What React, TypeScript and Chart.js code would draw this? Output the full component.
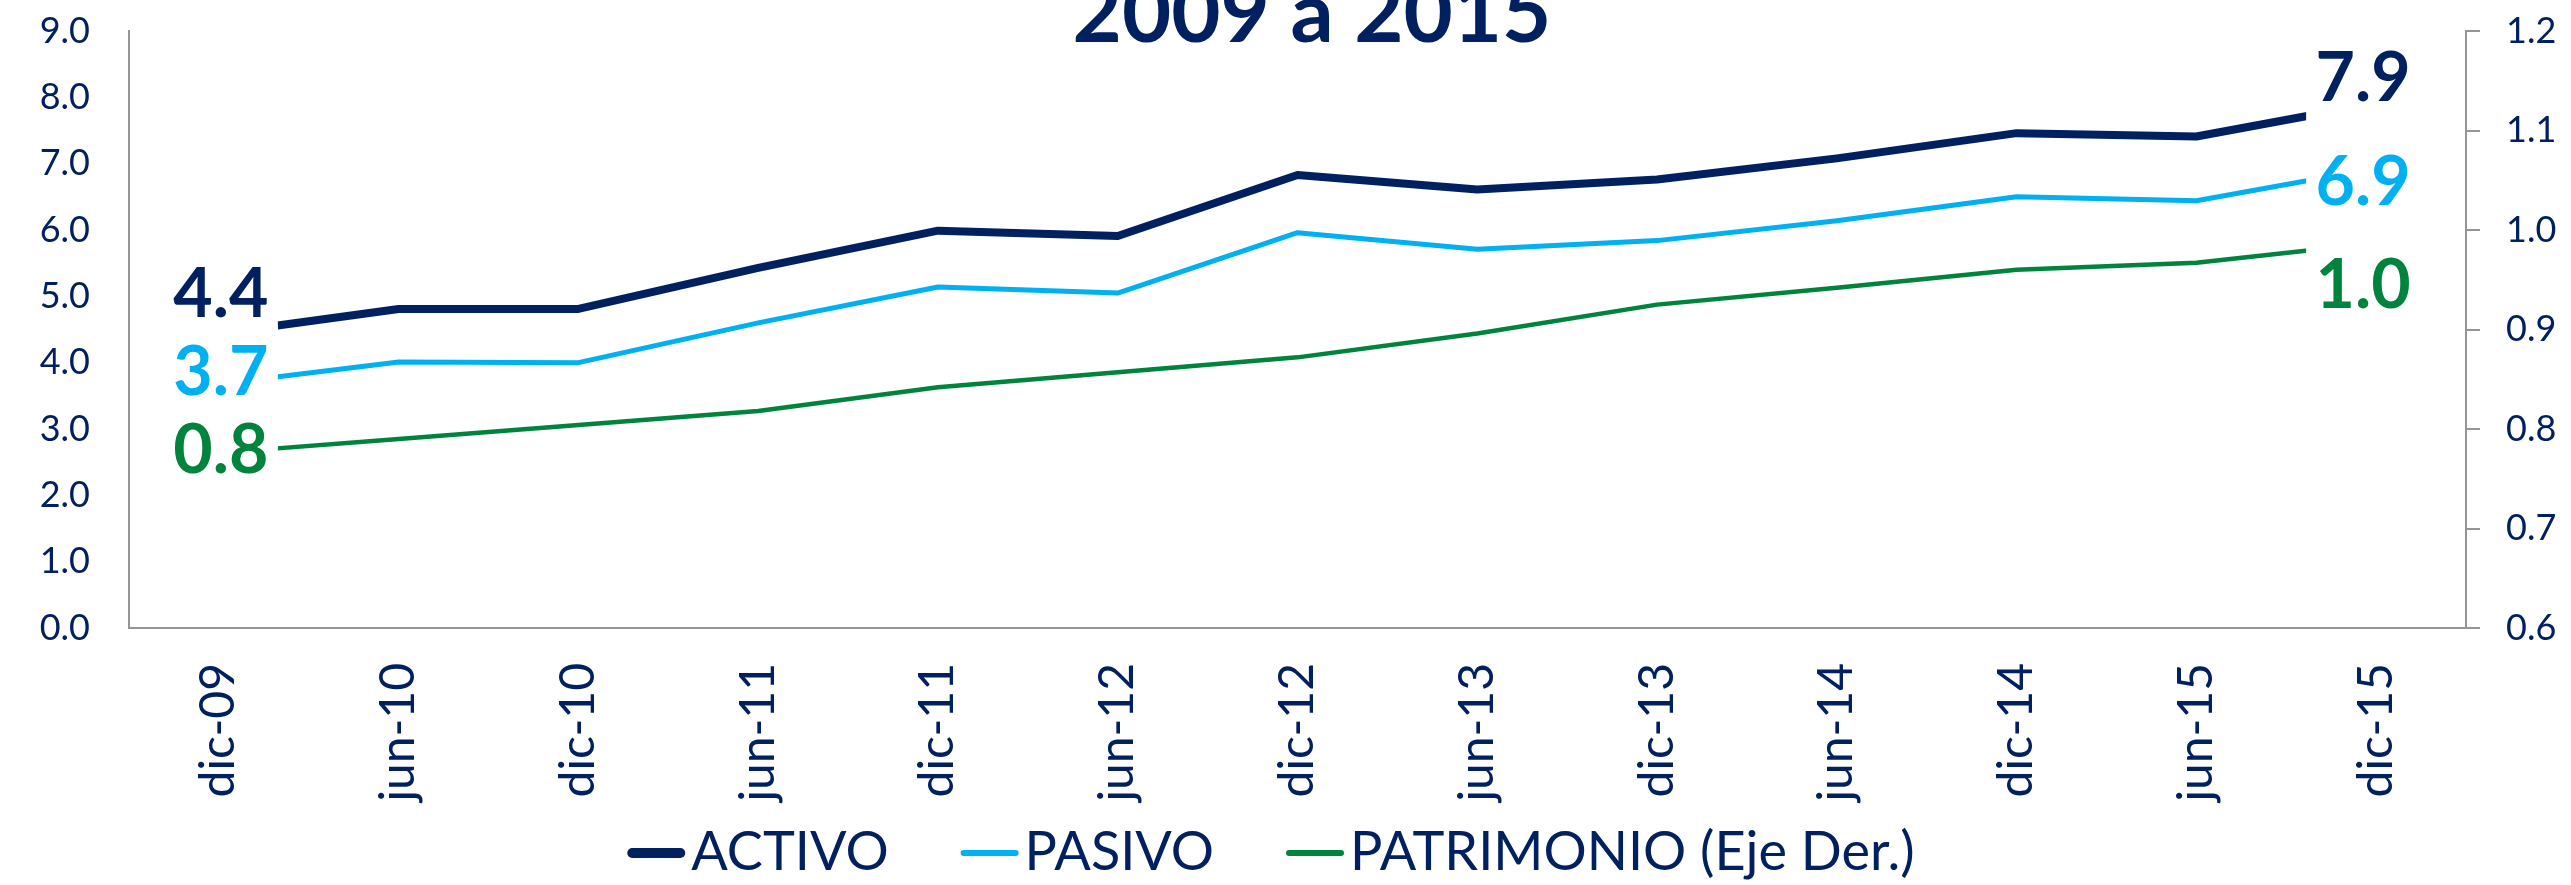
import { useEffect, useRef } from 'react';
import { Chart, registerables } from 'chart.js';

Chart.register(...registerables);

const categories = ['dic-09', 'jun-10', 'dic-10', 'jun-11', 'dic-11', 'jun-12', 'dic-12', 'jun-13', 'dic-13', 'jun-14', 'dic-14', 'jun-15', 'dic-15'];
const activo = [4.44, 4.81, 4.81, 5.43, 5.99, 5.91, 6.83, 6.61, 6.76, 7.08, 7.46, 7.41, 7.91];
const pasivo = [3.68, 4.01, 4.0, 4.6, 5.14, 5.05, 5.96, 5.71, 5.84, 6.14, 6.5, 6.44, 6.93];
const patrimonio = [0.776, 0.79, 0.804, 0.818, 0.842, 0.857, 0.872, 0.896, 0.925, 0.942, 0.96, 0.967, 0.987];
const leftTickLabels = ['0.0', '1.0', '2.0', '3.0', '4.0', '5.0', '6.0', '7.0', '8.0', '9.0'];
const rightTickLabels = ['0.6', '0.7', '0.8', '0.9', '1.0', '1.1', '1.2'];
const seriesNames = ['ACTIVO', 'PASIVO', 'PATRIMONIO (Eje Der.)'];
const titleText = '2009 a 2015';

const NAVY = '#002060';
const CYAN = '#00B0F0';
const GREEN = '#00843D';
const GRAY = '#959595';
const FONT = 'Lato';
const PLOT_TOP = 31;

// label placement offsets (px) relative to first / last point
const labelOffsets = [
  { lx: 2, ly: -40, rx: -13, ry: -26.5 },
  { lx: 2, ly: -12.7, rx: -13, ry: 13 },
  { lx: 2, ly: -4, rx: -13, ry: 41.5 },
];

const endLabelsPlugin = {
  id: 'endLabels',
  afterDatasetsDraw(chart: any) {
    const ctx = chart.ctx as CanvasRenderingContext2D;
    const items: { x: number; y: number; text: string; color: string }[] = [];
    chart.data.datasets.forEach((ds: any, i: number) => {
      const meta = chart.getDatasetMeta(i);
      const n = meta.data.length;
      const p0 = meta.data[0];
      const p1 = meta.data[n - 1];
      const o = labelOffsets[i];
      items.push({ x: p0.x + o.lx, y: p0.y + o.ly, text: Number(ds.data[0]).toFixed(1), color: ds.borderColor });
      items.push({ x: p1.x + o.rx, y: p1.y + o.ry, text: Number(ds.data[n - 1]).toFixed(1), color: ds.borderColor });
    });
    ctx.save();
    ctx.fillStyle = '#ffffff';
    items.forEach((it) => ctx.fillRect(it.x - 57, it.y - 46, 114, 92));
    ctx.font = `bold 68px ${FONT}`;
    ctx.textAlign = 'center';
    ctx.textBaseline = 'alphabetic';
    items.forEach((it) => {
      ctx.fillStyle = it.color;
      ctx.fillText(it.text, it.x, it.y + 24);
    });
    ctx.restore();
  },
};

const legendTitlePlugin = {
  id: 'legendTitle',
  afterDraw(chart: any) {
    const ctx = chart.ctx as CanvasRenderingContext2D;
    ctx.save();
    // title (second line, partly cut at top)
    ctx.font = `bold 85px ${FONT}`;
    ctx.fillStyle = NAVY;
    ctx.textAlign = 'center';
    ctx.textBaseline = 'alphabetic';
    ctx.fillText(titleText, 1312, 42);

    // legend
    ctx.font = `54px ${FONT}`;
    const markerW = 58;
    const gapText = 6;
    const gapItem = 72;
    const widths = chart.data.datasets.map((ds: any) => ctx.measureText(ds.label).width);
    const total = widths.reduce((a: number, w: number) => a + markerW + gapText + w, 0) + gapItem * (widths.length - 1);
    let x = 1271 - total / 2;
    const yMark = 853;
    chart.data.datasets.forEach((ds: any, i: number) => {
      const lw = i === 0 ? 10 : 6;
      ctx.strokeStyle = ds.borderColor;
      ctx.lineWidth = lw;
      ctx.lineCap = 'round';
      ctx.beginPath();
      ctx.moveTo(x + lw / 2, yMark);
      ctx.lineTo(x + markerW - lw / 2, yMark);
      ctx.stroke();
      ctx.fillStyle = NAVY;
      ctx.textAlign = 'left';
      ctx.fillText(ds.label, x + markerW + gapText, 870);
      x += markerW + gapText + widths[i] + gapItem;
    });
    ctx.restore();
  },
};

export default function App() {
  const ref = useRef<HTMLCanvasElement>(null);

  useEffect(() => {
    let chart: Chart | null = null;
    let cancelled = false;
    const make = () => {
      if (cancelled || !ref.current) return;
      const cfg: any = {
        type: 'line',
        data: {
          labels: categories,
          datasets: [
            { label: seriesNames[0], data: activo, borderColor: NAVY, backgroundColor: NAVY, borderWidth: 8, yAxisID: 'y', pointRadius: 0, tension: 0, borderJoinStyle: 'round' },
            { label: seriesNames[1], data: pasivo, borderColor: CYAN, backgroundColor: CYAN, borderWidth: 5, yAxisID: 'y', pointRadius: 0, tension: 0, borderJoinStyle: 'round' },
            { label: seriesNames[2], data: patrimonio, borderColor: GREEN, backgroundColor: GREEN, borderWidth: 4.5, yAxisID: 'y1', pointRadius: 0, tension: 0, borderJoinStyle: 'round' },
          ],
        },
        options: {
          animation: false,
          responsive: false,
          devicePixelRatio: 1,
          events: [],
          layout: { padding: { top: 0, left: 0, right: 0, bottom: 0 } },
          plugins: {
            legend: { display: false },
            title: { display: false },
            tooltip: { enabled: false },
          },
          scales: {
            x: {
              type: 'category',
              offset: true,
              grid: { display: false, drawTicks: false },
              border: { display: true, color: GRAY, width: 2 },
              ticks: {
                autoSkip: false,
                maxRotation: 90,
                minRotation: 90,
                padding: 35,
                color: NAVY,
                font: { family: FONT, size: 48 },
              },
              afterFit: (s: any) => {
                s.height = 885 - 628;
              },
            },
            y: {
              position: 'left',
              min: 0,
              max: 9,
              grid: { display: false, drawTicks: false },
              border: { display: true, color: GRAY, width: 2 },
              ticks: {
                stepSize: 1,
                padding: 39,
                color: NAVY,
                font: { family: FONT, size: 36 },
                callback: (_v: any, i: number) => leftTickLabels[i],
              },
              afterFit: (s: any) => {
                s.width = 129;
                s.paddingTop = 0;
                s.paddingBottom = 0;
              },
            },
            y1: {
              position: 'right',
              min: 0.6,
              max: 1.2,
              grid: { display: true, drawOnChartArea: false, drawTicks: true, tickLength: 14, color: GRAY, lineWidth: 2 },
              border: { display: true, color: GRAY, width: 2 },
              ticks: {
                stepSize: 0.1,
                padding: 26,
                color: NAVY,
                font: { family: FONT, size: 36 },
                callback: (_v: any, i: number) => rightTickLabels[i],
              },
              afterFit: (s: any) => {
                s.width = 105;
                s.paddingTop = 0;
                s.paddingBottom = 0;
              },
            },
          },
        },
        plugins: [endLabelsPlugin, legendTitlePlugin],
      };
      chart = new Chart(ref.current, cfg);
      // adjust top padding so the plot area starts exactly at PLOT_TOP
      const diff = PLOT_TOP - chart.chartArea.top;
      if (Math.abs(diff) > 0.5) {
        cfg.options.layout.padding.top = Math.max(0, diff);
        chart.options.layout.padding = { top: Math.max(0, diff), left: 0, right: 0, bottom: 0 } as any;
        chart.update('none');
      }
    };
    const fonts = (document as any).fonts;
    if (fonts && fonts.load) {
      Promise.all([
        fonts.load(`36px ${FONT}`),
        fonts.load(`bold 68px ${FONT}`),
      ]).then(make, make);
    } else {
      make();
    }
    return () => {
      cancelled = true;
      if (chart) chart.destroy();
    };
  }, []);

  return (
    <div style={{ position: 'fixed', left: 0, top: 0, width: 2571, height: 885, background: '#ffffff' }}>
      <canvas ref={ref} width={2571} height={885} style={{ display: 'block', width: 2571, height: 885 }} />
    </div>
  );
}
